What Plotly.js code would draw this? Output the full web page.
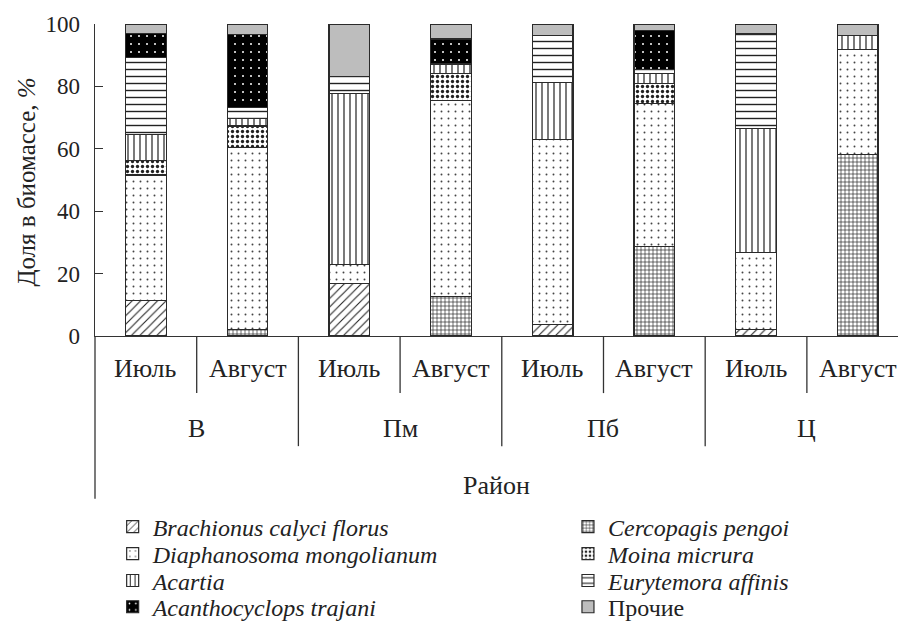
<!DOCTYPE html>
<html>
<head>
<meta charset="utf-8">
<script src="https://cdn.plot.ly/plotly-3.0.1.min.js"></script>
<style>html,body{margin:0;padding:0;background:#fff;}#chart{width:898px;height:622px;}</style>
</head>
<body>
<div id="chart"></div>
<script>
// ---- data ----
var regions = ["В", "Пм", "Пб", "Ц"];
var months = ["Июль", "Август", "Июль", "Август", "Июль", "Август", "Июль", "Август"];
var categories = ["В Июль", "В Август", "Пм Июль", "Пм Август", "Пб Июль", "Пб Август", "Ц Июль", "Ц Август"];

var brachionus     = [11.5, 0, 16.9, 0, 3.8, 0, 2.2, 0];
var cercopagis     = [0, 2.1, 0, 12.6, 0, 28.8, 0, 58.3];
var diaphanosoma   = [40.1, 58.3, 5.9, 62.8, 59.3, 45.8, 24.6, 33.6];
var moina          = [4.6, 6.9, 0, 8.8, 0, 6.4, 0, 0];
var acartia        = [8.4, 2.4, 54.8, 3.0, 18.1, 3.2, 39.8, 4.3];
var eurytemora     = [24.6, 3.6, 5.7, 0, 15.0, 1.1, 30.2, 0];
var acanthocyclops = [7.7, 23.4, 0, 8.0, 0, 12.6, 0, 0];
var other          = [3.1, 3.3, 16.7, 4.8, 3.8, 2.1, 3.2, 3.8];

var yTicks = [0, 20, 40, 60, 80, 100];

// ---- styles ----
var SERIF = "Liberation Serif";
var LINE = {color: "#2a2a2a", width: 1.2};
var TXT = "#222";

function bar(name, values, pattern, color, legendId) {
  return {
    type: "bar", name: name, x: categories, y: values, width: 0.4,
    legend: legendId, hoverinfo: "skip",
    marker: {color: color || "#ffffff", line: LINE, pattern: pattern}
  };
}

var traces = [
  bar("<i>Brachionus calyci florus</i>", brachionus, {shape: "/", size: 6, solidity: 0.18, fgcolor: "#222", bgcolor: "#fff"}, null, "legend"),
  bar("<i>Cercopagis pengoi</i>", cercopagis, {shape: "+", size: 4, solidity: 0.3, fgcolor: "#222", bgcolor: "#fff"}, null, "legend2"),
  bar("<i>Diaphanosoma mongolianum</i>", diaphanosoma, {shape: ".", size: 7, solidity: 0.06, fgcolor: "#444", bgcolor: "#fff"}, null, "legend3"),
  bar("<i>Moina micrura</i>", moina, {shape: ".", size: 5, solidity: 0.35, fgcolor: "#222", bgcolor: "#fff"}, null, "legend4"),
  bar("<i>Acartia</i>", acartia, {shape: "|", size: 6, solidity: 0.2, fgcolor: "#222", bgcolor: "#fff"}, null, "legend5"),
  bar("<i>Eurytemora affinis</i>", eurytemora, {shape: "-", size: 7, solidity: 0.2, fgcolor: "#222", bgcolor: "#fff"}, null, "legend6"),
  bar("<i>Acanthocyclops trajani</i>", acanthocyclops, {shape: ".", size: 8, solidity: 0.05, fgcolor: "#fff", bgcolor: "#000"}, "#000", "legend7"),
  bar("Прочие", other, {shape: ""}, "#bdbdbd", "legend8")
];

// ---- category labels and dividers ----
var annotations = [];
months.forEach(function (m, i) {
  annotations.push({x: i, y: -0.103, xref: "x", yref: "paper", text: m, showarrow: false,
    yanchor: "middle", font: {family: SERIF, size: 26, color: TXT}});
});
regions.forEach(function (r, i) {
  annotations.push({x: 2 * i + 0.5, y: -0.298, xref: "x", yref: "paper", text: r, showarrow: false,
    yanchor: "middle", font: {family: SERIF, size: 26, color: TXT}});
});
annotations.push({x: 0.5, y: -0.478, xref: "paper", yref: "paper", text: "Район", showarrow: false,
  yanchor: "middle", font: {family: SERIF, size: 26, color: TXT}});
annotations.push({x: -0.085, y: 0.494, xref: "paper", yref: "paper", text: "Доля в биомассе, <i>%</i>",
  showarrow: false, textangle: -90, xanchor: "center", yanchor: "middle",
  font: {family: SERIF, size: 25, color: TXT}});

var shapes = [];
var lineStyle = {color: "#333", width: 1.3};
for (var k = 0; k < categories.length - 1; k++) {
  var longDiv = (k % 2 === 1);
  shapes.push({type: "line", xref: "x", yref: "paper", x0: k + 0.5, x1: k + 0.5,
    y0: 0, y1: longDiv ? -0.353 : -0.183, line: lineStyle});
}
shapes.push({type: "line", xref: "paper", yref: "paper", x0: 0, x1: 0, y0: 0, y1: -0.522, line: lineStyle});

function leg(x, y) {
  return {x: x, y: y, xanchor: "left", yanchor: "middle", orientation: "v",
    font: {family: SERIF, size: 24, color: TXT}, bgcolor: "rgba(0,0,0,0)",
    itemclick: false, itemdoubleclick: false};
}
var colL = 0.022, colR = 0.589;
var rows = [-0.612, -0.699, -0.785, -0.869];

var layout = {
  width: 898, height: 622,
  font: {family: SERIF},
  margin: {l: 95, r: 0, t: 24, b: 286, autoexpand: false},
  paper_bgcolor: "#fff", plot_bgcolor: "#fff",
  barmode: "stack",
  showlegend: true,
  xaxis: {type: "category", range: [-0.5, 7.396], showticklabels: false, ticks: "",
    showline: true, linecolor: "#333", linewidth: 1.3, showgrid: false, zeroline: false, fixedrange: true},
  yaxis: {range: [0, 100], tickvals: yTicks, ticks: "inside", ticklen: 8, tickcolor: "#333", tickwidth: 1.3,
    ticklabelstandoff: 9,
    showline: true, linecolor: "#333", linewidth: 1.3, showgrid: false, zeroline: false,
    tickfont: {family: SERIF, size: 23, color: TXT}, fixedrange: true},
  legend: leg(colL, rows[0]),
  legend2: leg(colR, rows[0]),
  legend3: leg(colL, rows[1]),
  legend4: leg(colR, rows[1]),
  legend5: leg(colL, rows[2]),
  legend6: leg(colR, rows[2]),
  legend7: leg(colL, rows[3]),
  legend8: leg(colR, rows[3]),
  annotations: annotations,
  shapes: shapes
};

Plotly.newPlot("chart", traces, layout, {displayModeBar: false, staticPlot: true});
</script>
</body>
</html>
